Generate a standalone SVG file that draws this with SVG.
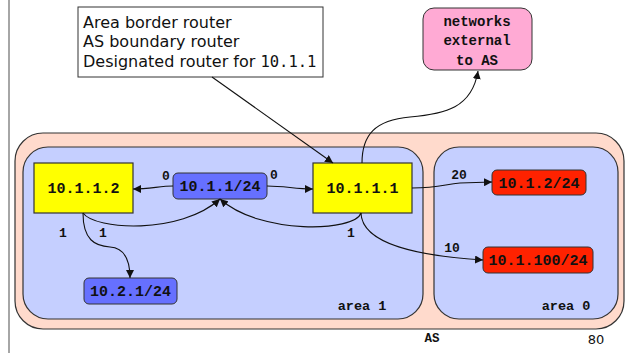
<svg xmlns="http://www.w3.org/2000/svg" width="628" height="353" viewBox="0 0 628 353">
<style>
.mono{font-family:"Liberation Mono","Courier New",monospace;font-weight:bold;fill:#111}
.sans{font-family:"DejaVu Sans","Verdana",sans-serif;fill:#111}
.area{fill:#c5cfff;stroke:#333;stroke-width:1.2}
.router{fill:#ffff00;stroke:#333;stroke-width:1.2}
.net{fill:#6670ff;stroke:#333;stroke-width:1}
.ext{fill:#ff2200;stroke:#333;stroke-width:1}
.edge{fill:none;stroke:#111;stroke-width:1.1;marker-end:url(#ah)}
.lbl{font-size:13px}
.nt{font-size:15px}
</style>
<defs>
<marker id="ah" viewBox="0 0 10 10" refX="10" refY="5" markerWidth="8" markerHeight="8" markerUnits="userSpaceOnUse" orient="auto">
<path d="M0,0 L10,5 L0,10 z" fill="#111"/>
</marker>
</defs>
<line x1="9" y1="0" x2="9" y2="353" stroke="#888" stroke-width="1.5"/>
<g id="as">
<rect x="15" y="133" width="609" height="196" rx="28" fill="#ffdacc" stroke="#333" stroke-width="1.2"/>
<text class="mono" x="432" y="342" font-size="12.5" text-anchor="middle">AS</text>
</g>
<g id="area1">
<rect class="area" x="23" y="147" width="400" height="172" rx="25"/>
<text class="mono" x="362" y="310" font-size="13.5" text-anchor="middle">area 1</text>
</g>
<g id="area0">
<rect class="area" x="434" y="147" width="184" height="172" rx="25"/>
<text class="mono" x="566" y="310" font-size="13.5" text-anchor="middle">area 0</text>
</g>
<g id="note">
<rect x="78" y="7" width="245" height="70" fill="#fff" stroke="#333" stroke-width="1"/>
<text class="sans" x="83" y="28" font-size="16">Area border router</text>
<text class="sans" x="83" y="47" font-size="16">AS boundary router</text>
<text class="sans" x="83" y="67" font-size="16">Designated router for <tspan font-family="DejaVu Sans Mono, monospace" font-size="15.5">10.1.1</tspan></text>
</g>
<g id="external">
<rect x="423" y="8" width="109" height="62" rx="11" fill="#ffaad4" stroke="#333" stroke-width="1"/>
<text class="mono" x="477" y="26" font-size="14" text-anchor="middle">networks</text>
<text class="mono" x="477" y="45" font-size="14" text-anchor="middle">external</text>
<text class="mono" x="477" y="65" font-size="14" text-anchor="middle">to AS</text>
</g>
<g id="r10112">
<rect class="router" x="34" y="163" width="99" height="50"/>
<text class="mono nt" x="83.5" y="193" text-anchor="middle">10.1.1.2</text>
</g>
<g id="r10111">
<rect class="router" x="313" y="163" width="99" height="50"/>
<text class="mono nt" x="362.5" y="193" text-anchor="middle">10.1.1.1</text>
</g>
<g id="n10_1_1">
<rect class="net" x="173" y="173" width="94" height="26" rx="5"/>
<text class="mono nt" x="220" y="191" text-anchor="middle">10.1.1/24</text>
</g>
<g id="n10_2_1">
<rect class="net" x="84" y="278" width="93" height="26" rx="5"/>
<text class="mono nt" x="130.5" y="296" text-anchor="middle">10.2.1/24</text>
</g>
<g id="n10_1_2">
<rect class="ext" x="492" y="170" width="94" height="25" rx="5"/>
<text class="mono nt" x="539" y="188" text-anchor="middle">10.1.2/24</text>
</g>
<g id="n10_1_100">
<rect class="ext" x="483" y="247" width="110" height="26" rx="5"/>
<text class="mono nt" x="538" y="265" text-anchor="middle">10.1.100/24</text>
</g>
<g id="connectors">
<path class="edge" d="M212,77 L333,163"/>
<path class="edge" d="M362,163 C362,135 375,120 410,117 C445,114 472,108 478,71"/>
<path class="edge" d="M173,186 C160,186 150,189 133,189"/>
<path class="edge" d="M267,186 C285,186 295,189 313,189"/>
<path class="edge" d="M83,213 C95,230 180,235 220,199"/>
<path class="edge" d="M361,213 C355,232 260,235 220,199"/>
<path class="edge" d="M83,213 C83,240 95,246 110,247 C125,248 130,260 130,278"/>
<path class="edge" d="M412,188 C440,188 445,184 460,183 L492,182"/>
<path class="edge" d="M361,213 C362,245 420,256 483,260"/>
</g>
<g id="labels">
<text class="mono lbl" x="166" y="180" text-anchor="middle">0</text>
<text class="mono lbl" x="274" y="179" text-anchor="middle">0</text>
<text class="mono lbl" x="63" y="237" text-anchor="middle">1</text>
<text class="mono lbl" x="103" y="237" text-anchor="middle">1</text>
<text class="mono lbl" x="351" y="237" text-anchor="middle">1</text>
<text class="mono lbl" x="459" y="179" text-anchor="middle">20</text>
<text class="mono lbl" x="452" y="252" text-anchor="middle">10</text>
</g>
<text class="sans" x="596" y="344" font-size="13" text-anchor="middle" fill="#333">80</text>
</svg>
